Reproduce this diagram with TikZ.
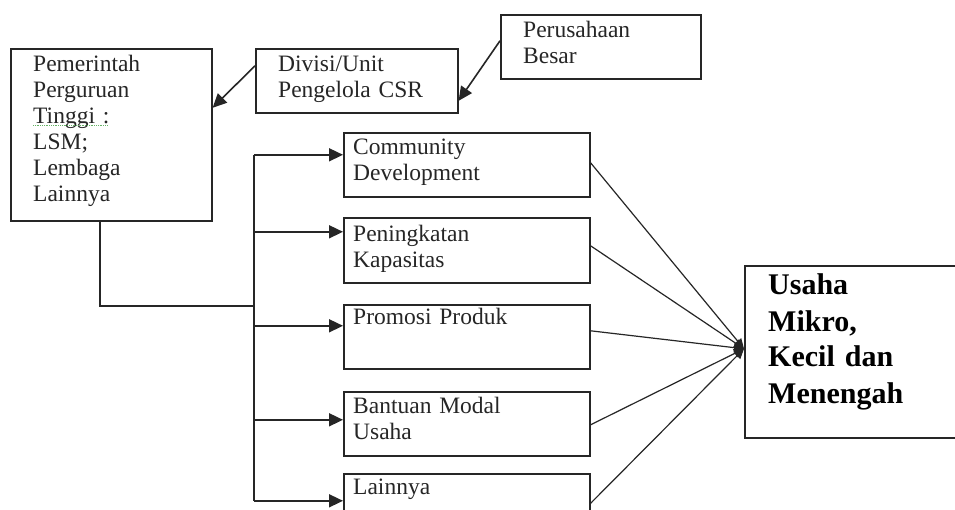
\documentclass[tikz,border=0pt]{standalone}
\usepackage{fontspec}
\setmainfont{Liberation Serif}
\usetikzlibrary{arrows.meta,calc}
\begin{document}
\begin{tikzpicture}[x=1pt,y=-1pt,
  box/.style={draw=black!85,line width=1.6pt},
  txt/.style={anchor=base west,inner sep=0pt,text width=#1,align=left,
    font=\fontsize{23.5}{26}\selectfont,text=black!85},
  bigtxt/.style={anchor=base west,inner sep=0pt,text width=#1,align=left,
    font=\fontsize{30}{36}\selectfont\bfseries,text=black},
  conn/.style={draw=black!85,line width=1.6pt},
  arr/.style={conn,-{Triangle[length=14pt,width=13pt]}},
  fan/.style={draw=black!85,line width=1.2pt,-{Triangle[length=10pt,width=9pt]}}]
\useasboundingbox[fill=white] (0,0) rectangle (955,510);
% boxes
\node[box,inner sep=0pt,minimum width=201pt,minimum height=172pt,anchor=north west] (gov) at (10,48) {};
\node[box,inner sep=0pt,minimum width=202pt,minimum height=64pt,anchor=north west] (div) at (255,48) {};
\node[box,inner sep=0pt,minimum width=200pt,minimum height=64pt,anchor=north west] (pb) at (500,14) {};
\node[box,inner sep=0pt,minimum width=246pt,minimum height=64pt,anchor=north west] (cd) at (343,132) {};
\node[box,inner sep=0pt,minimum width=246pt,minimum height=65pt,anchor=north west] (pk) at (343,217) {};
\node[box,inner sep=0pt,minimum width=246pt,minimum height=64pt,anchor=north west] (pp) at (343,304) {};
\node[box,inner sep=0pt,minimum width=246pt,minimum height=64pt,anchor=north west] (bm) at (343,391) {};
\node[box,inner sep=0pt,minimum width=246pt,minimum height=50pt,anchor=north west] (ln) at (343,473) {};
\node[box,inner sep=0pt,minimum width=216pt,minimum height=172pt,anchor=north west] (um) at (744,265) {};
% texts
\node[txt=170pt] (tgov) at (33,72) {Pemerintah\\Perguruan\\Tinggi :\\LSM;\\Lembaga\\Lainnya};
\draw[green!50!black!60,line width=0.8pt,densely dotted] (33,125) -- (108,125);
\node[txt=175pt] (tdiv) at (278,72) {Divisi/Unit\\Pengelola CSR};
\node[txt=170pt] (tpb) at (523,38) {Perusahaan\\Besar};
\node[txt=230pt] (tcd) at (353,155) {Community\\Development};
\node[txt=230pt] (tpk) at (353,242) {Peningkatan\\Kapasitas};
\node[txt=230pt] (tpp) at (353,324) {Promosi Produk};
\node[txt=230pt] (tbm) at (353,413) {Bantuan Modal\\Usaha};
\node[txt=230pt] (tln) at (353,494) {Lainnya};
\node[bigtxt=190pt] (tum) at (768,295) {Usaha\\Mikro,\\Kecil dan\\Menengah};
% top arrows
\draw[arr] ([yshift=15pt]div.west) -- ([yshift=27pt]gov.east);
\draw[arr] ([yshift=6pt]pb.west) -- ([yshift=-20pt]div.east);
% bus
\coordinate (bus) at (254,306);
\coordinate (cdA) at ([yshift=10pt]cd.west);
\coordinate (pkA) at ([yshift=18.5pt]pk.west);
\coordinate (ppA) at ([yshift=11pt]pp.west);
\coordinate (bmA) at ([yshift=4pt]bm.west);
\coordinate (lnA) at ([yshift=-2pt]ln.west);
\draw[conn] ([xshift=-11.5pt]gov.south) |- (bus);
\draw[conn] (bus |- cdA) -- (bus |- lnA);
\draw[arr] (bus |- cdA) -- (cdA);
\draw[arr] (bus |- pkA) -- (pkA);
\draw[arr] (bus |- ppA) -- (ppA);
\draw[arr] (bus |- bmA) -- (bmA);
\draw[arr] (bus |- lnA) -- (lnA);
% fan
\coordinate (umA) at ([yshift=3pt]um.west);
\draw[fan] ([yshift=2pt]cd.east) -- (umA);
\draw[fan] ([yshift=4.5pt]pk.east) -- (umA);
\draw[fan] ([yshift=6pt]pp.east) -- (umA);
\draw[fan] ([yshift=-1pt]bm.east) -- (umA);
\draw[fan] ([yshift=-4.5pt]ln.east) -- (umA);
\end{tikzpicture}
\end{document}
